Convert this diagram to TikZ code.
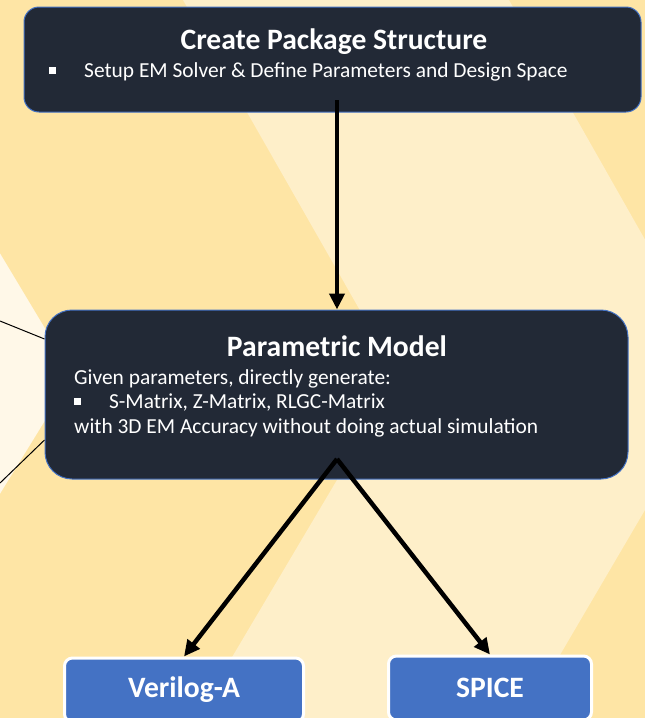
\documentclass[tikz,border=0pt]{standalone}
\usepackage{fontspec}
\setmainfont{Carlito}
\usepackage{xcolor}
\usetikzlibrary{positioning,arrows.meta}
\definecolor{bggold}{HTML}{FEE5A5}
\definecolor{bglight}{HTML}{FEEFC9}
\definecolor{bgcream}{HTML}{FFF8E8}
\definecolor{boxdark}{HTML}{222936}
\definecolor{boxedge}{HTML}{4472C4}
\definecolor{boxblue}{HTML}{4472C4}
\newcommand{\boxtitle}{\fontsize{29.6}{34}\selectfont\bfseries}
\newcommand{\boxbody}{\fontsize{21.4}{24.5}\selectfont}
\newcommand{\sqbullet}{\makebox[35pt][l]{\rule[4pt]{6.5pt}{6.5pt}}}

\begin{document}
\begin{tikzpicture}[x=1pt, y=-1pt, >={Triangle[length=16pt,width=15pt]},
    darkbox/.style={draw=boxedge, line width=1pt, fill=boxdark, rounded corners=#1},
    bluebox/.style={draw=white, line width=3pt, fill=boxblue, rounded corners=8pt, text=white,
    font=\boxtitle, minimum height=64pt},
    title/.style={text=white, font=\boxtitle, inner sep=0pt},
    body/.style={text=white, font=\boxbody, align=left, inner sep=0pt},
    flow/.style={->, line width=4.5pt}]
    \useasboundingbox (0,0) rectangle (645,718);
    \clip (0,0) rectangle (645,718);
    \fill[bggold] (0,0) rectangle (645,718);
    \fill[bgcream] (-2,250) -- (73,375) -- (-2,497) -- cycle;
    \fill[bglight] (183,0) -- (509,0) -- (723,377) -- (523,718) -- (196,718) -- (398,377) -- cycle;
    \node[darkbox=15pt, minimum width=617pt, minimum height=105pt] (pkg) at (332.5,59.5) {};
    \node[title, anchor=base] (pkgtitle) at (334,49) {Create Package Structure};
    \node[body, anchor=base west] (pkgtext) at (49,77.5) {\sqbullet Setup EM Solver \& Define Parameters and Design Space};
    \node[darkbox=27pt, minimum width=583pt, minimum height=169pt] (model) at (336.5,394.5) {};
    \node[title, anchor=base] (modeltitle) at (337,356) {Parametric Model};
    \node[body, anchor=north west] (modeltext) at (74,369) {Given parameters, directly generate:\\
      \sqbullet S-Matrix, Z-Matrix, RLGC-Matrix\\ with 3D EM Accuracy without doing actual simulation};
    \node[bluebox, minimum width=239pt] (veri) at (184,690) {Verilog-A};
    \node[bluebox, minimum width=203pt] (spice) at (490,688) {SPICE};
    \coordinate (pkgout) at (337,100); \coordinate (split) at (337,459);
    \coordinate (inA) at (0,321); \coordinate (inB) at (0,483);
    \draw[line width=1pt] (inA) -- ([yshift=55.5pt]model.west); \draw[line width=1pt] (inB) -- ([yshift=-45.5pt]model.west);
    \draw[flow] (pkgout) -- (pkgout |- model.north);
    \draw[flow] (split) -- (veri.north); \draw[flow] (split) -- (spice.north);
  \end{tikzpicture}
\end{document}
